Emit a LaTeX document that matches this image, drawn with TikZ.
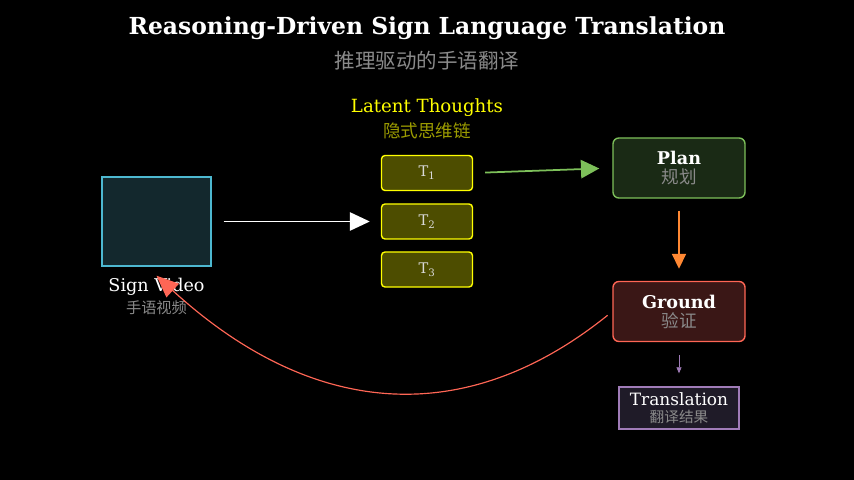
\documentclass[tikz,border=0pt]{standalone}
\usepackage{fontspec}
\setmainfont{DejaVu Serif}
\newfontfamily\cnfont{Noto Sans CJK SC}
\usetikzlibrary{arrows.meta,positioning}

\definecolor{bgblack}{HTML}{000000}
\definecolor{cnGray}{HTML}{8A8A8A}
\definecolor{thYellow}{HTML}{FFFF00}
\definecolor{thDim}{HTML}{9C9C00}
\definecolor{thFill}{HTML}{4D4D00}
\definecolor{vidLine}{HTML}{4DB8D0}
\definecolor{vidFill}{HTML}{13282D}
\definecolor{planLine}{HTML}{7DC05A}
\definecolor{planFill}{HTML}{1A2A15}
\definecolor{orangeArr}{HTML}{FF8833}
\definecolor{gndLine}{HTML}{FF6655}
\definecolor{gndFill}{HTML}{3A1716}
\definecolor{trLine}{HTML}{A07CB8}
\definecolor{trFill}{HTML}{1F1B28}

\begin{document}
\begin{tikzpicture}[
  x=0.03cm, y=-0.03cm,
  thought/.style={draw=thYellow, line width=1.2pt, fill=thFill, rounded corners=3pt,
                  minimum width=2.73cm, minimum height=1.05cm, inner sep=0pt,
                  text=white!85!black, font=\fontsize{12.5}{14}\selectfont},
  stage/.style={line width=1.2pt, rounded corners=5pt, align=center, inner sep=0pt,
                minimum width=3.96cm, minimum height=1.8cm, text=white,
                font=\fontsize{15}{16.2}\selectfont},
  cn/.style={font=\cnfont\fontsize{13}{15}\selectfont, text=cnGray},
  link/.style={line width=1.5pt}
]
% canvas
\fill[bgblack] (0,0) rectangle (854,480);
\useasboundingbox (0,0) rectangle (854,480);

% title
\node[text=white, font=\bfseries\fontsize{20}{24}\selectfont] (title) at (427,28)
  {Reasoning-Driven Sign Language Translation};
\node[cn, font=\cnfont\fontsize{17.5}{20}\selectfont] (subtitle) at (427,60.5) {推理驱动的手语翻译};

% sign video
\node[draw=vidLine, line width=1.2pt, fill=vidFill, minimum width=3.27cm,
      minimum height=2.67cm, inner sep=0pt] (video) at (156.5,221.5) {};
\node[text=white, font=\fontsize{15}{17}\selectfont] (videolbl) at (156.5,287) {Sign Video};
\node[cn] (videocn) at (156.5,307.5) {手语视频};

% latent thoughts
\node[text=thYellow, font=\fontsize{15.5}{18}\selectfont] (latent) at (427,107.5) {Latent Thoughts};
\node[text=thDim, font=\cnfont\fontsize{15}{17}\selectfont] (latentcn) at (427,131) {隐式思维链};
\node[thought] (t1) at (427,173) {T\textsubscript{1}};
\node[thought] (t2) at (427,221.5) {T\textsubscript{2}};
\node[thought] (t3) at (427,269.5) {T\textsubscript{3}};

% stages
\node[stage, draw=planLine, fill=planFill] (plan) at (679,168)
  {\textbf{Plan}\\{\cnfont\color{cnGray}规划}};
\node[stage, draw=gndLine, fill=gndFill] (ground) at (679,311.5)
  {\textbf{Ground}\\{\cnfont\color{cnGray}验证}};
\node[stage, draw=trLine, fill=trFill, rounded corners=0pt, minimum width=3.6cm,
      minimum height=1.26cm, font=\fontsize{14.5}{14.5}\selectfont] (trans) at (679,408)
  {Translation\\{\cnfont\fontsize{12.5}{14}\selectfont\color{cnGray}翻译结果}};

% connectors
\draw[link, white, -{Triangle[length=0.6cm,width=0.55cm]}, shorten <=0.36cm, shorten >=0.33cm]
  (video.east) -- (t2.west);
\draw[link, planLine, -{Triangle[length=0.55cm,width=0.55cm]}, shorten <=0.36cm, shorten >=0.39cm]
  (t1.east) -- (plan.west);
\draw[link, orangeArr, -{Triangle[length=0.45cm,width=0.42cm]}, shorten <=0.36cm, shorten >=0.36cm]
  (plan.south) -- (ground.north);
\draw[line width=0.6pt, trLine, -{Triangle[length=0.18cm,width=0.15cm]}, shorten <=0.39cm, shorten >=0.39cm]
  (ground.south) -- (trans.north);
\draw[line width=1pt, gndLine, -{Triangle[length=0.66cm,width=0.55cm]}, shorten <=0.18cm]
  (ground.west) .. controls (465,430) and (312,418) .. ([yshift=-0.27cm]video.south);
\end{tikzpicture}
\end{document}
